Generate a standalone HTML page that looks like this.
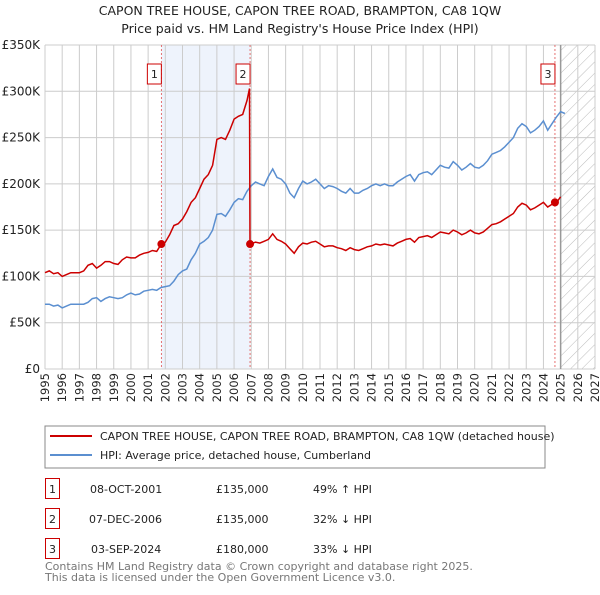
<!DOCTYPE html>
<html><head><meta charset="utf-8"><style>
body{margin:0;background:#fff;font-family:"Liberation Sans","DejaVu Sans",sans-serif;}
svg text{font-family:"DejaVu Sans","Liberation Sans",sans-serif;}
</style></head><body>
<svg id="c" width="600" height="590" xmlns="http://www.w3.org/2000/svg">
<defs><pattern id="hatch" width="8" height="8" patternUnits="userSpaceOnUse" patternTransform="rotate(45)"><line x1="0" y1="0" x2="0" y2="8" stroke="#bbb" stroke-width="1"/></pattern></defs>
<text x="300" y="15" text-anchor="middle" font-size="12.5" fill="#222">CAPON TREE HOUSE, CAPON TREE ROAD, BRAMPTON, CA8 1QW</text>
<text x="300" y="33" text-anchor="middle" font-size="12.5" fill="#222">Price paid vs. HM Land Registry's House Price Index (HPI)</text>
<g id="plot"></g>
<rect x="45" y="426" width="500" height="42" fill="#fff" stroke="#888"/>
<line x1="50" y1="436" x2="92" y2="436" stroke="#cc0000" stroke-width="2"/>
<text x="100" y="440" font-size="11" fill="#222">CAPON TREE HOUSE, CAPON TREE ROAD, BRAMPTON, CA8 1QW (detached house)</text>
<line x1="50" y1="455" x2="92" y2="455" stroke="#5b8fd0" stroke-width="2"/>
<text x="100" y="459" font-size="11" fill="#222">HPI: Average price, detached house, Cumberland</text>
<g font-size="11" fill="#222">
<rect x="45.5" y="478.5" width="14" height="20" fill="#fff" stroke="#cc0000"/><text x="52.5" y="493" text-anchor="middle">1</text>
<text x="90" y="493">08-OCT-2001</text><text x="216" y="493">£135,000</text><text x="313" y="493">49% ↑ HPI</text>
<rect x="45.5" y="508.5" width="14" height="20" fill="#fff" stroke="#cc0000"/><text x="52.5" y="523" text-anchor="middle">2</text>
<text x="89" y="523">07-DEC-2006</text><text x="216" y="523">£135,000</text><text x="313" y="523">32% ↓ HPI</text>
<rect x="45.5" y="538.5" width="14" height="20" fill="#fff" stroke="#cc0000"/><text x="52.5" y="553" text-anchor="middle">3</text>
<text x="91" y="553">03-SEP-2024</text><text x="216" y="553">£180,000</text><text x="313" y="553">33% ↓ HPI</text>
</g>
<text x="45" y="570" font-size="11" fill="#777">Contains HM Land Registry data © Crown copyright and database right 2025.</text>
<text x="45" y="581" font-size="11" fill="#777">This data is licensed under the Open Government Licence v3.0.</text>
</svg>
<script>
const yTicks=[0,50,100,150,200,250,300,350];
const yTickLabels=["£0","£50K","£100K","£150K","£200K","£250K","£300K","£350K"];
const xYears=[1995,1996,1997,1998,1999,2000,2001,2002,2003,2004,2005,2006,2007,2008,2009,2010,2011,2012,2013,2014,2015,2016,2017,2018,2019,2020,2021,2022,2023,2024,2025,2026,2027];
const hpiStart=1995;
const hpiValues=[70,70,68,69,66,68,70,70,70,70,72,76,77,73,76,78,77,76,77,80,82,80,81,84,85,86,85,88,89,90,95,102,106,108,118,125,135,138,142,150,167,168,165,172,180,184,183,192,198,202,200,198,208,216,207,205,200,190,185,195,203,200,202,205,200,195,198,197,195,192,190,195,190,190,193,195,198,200,198,200,198,198,202,205,208,210,203,210,212,213,210,215,220,218,217,224,220,215,218,222,218,217,220,225,232,234,236,240,245,250,260,265,262,255,258,262,268,258,265,272,278,276];
const redYears=[1995,1995.25,1995.5,1995.75,1996,1996.25,1996.5,1996.75,1997,1997.25,1997.5,1997.75,1998,1998.25,1998.5,1998.75,1999,1999.25,1999.5,1999.75,2000,2000.25,2000.5,2000.75,2001,2001.25,2001.5,2001.77,2002,2002.25,2002.5,2002.75,2003,2003.25,2003.5,2003.75,2004,2004.25,2004.5,2004.75,2005,2005.25,2005.5,2005.75,2006,2006.25,2006.5,2006.75,2006.9,2006.93,2007.25,2007.5,2007.75,2008,2008.25,2008.5,2008.75,2009,2009.25,2009.5,2009.75,2010,2010.25,2010.5,2010.75,2011,2011.25,2011.5,2011.75,2012,2012.25,2012.5,2012.75,2013,2013.25,2013.5,2013.75,2014,2014.25,2014.5,2014.75,2015,2015.25,2015.5,2015.75,2016,2016.25,2016.5,2016.75,2017,2017.25,2017.5,2017.75,2018,2018.25,2018.5,2018.75,2019,2019.25,2019.5,2019.75,2020,2020.25,2020.5,2020.75,2021,2021.25,2021.5,2021.75,2022,2022.25,2022.5,2022.75,2023,2023.25,2023.5,2023.75,2024,2024.25,2024.67,2024.85,2025.0];
const redValues=[104,106,103,104,100,102,104,104,104,106,112,114,109,112,116,116,114,113,118,121,120,120,123,125,126,128,127,135,137,145,155,157,162,170,180,185,195,205,210,220,248,250,248,258,270,273,275,290,303,135,137,136,138,140,146,140,138,135,130,125,132,136,135,137,138,135,132,133,133,131,130,128,131,129,128,130,132,133,135,134,135,134,133,136,138,140,141,137,142,143,144,142,145,148,147,146,150,148,145,147,150,147,146,148,152,156,157,159,162,165,168,175,179,177,172,174,177,180,175,180,182,186];
const saleYears=[2001.77,2006.93,2024.67];
const saleValues=[135,135,180];
const saleLabels=["1","2","3"];

const L=45,R=595,T=45,B=369,X0=1995,X1=2027,YMAX=350;
const xs=y=>L+(y-X0)/(X1-X0)*(R-L);
const ys=v=>B-v/YMAX*(B-T);
const NS="http://www.w3.org/2000/svg";
const g=document.getElementById('plot');
function mk(tag,attrs){const e=document.createElementNS(NS,tag);for(const k in attrs)e.setAttribute(k,attrs[k]);g.appendChild(e);return e;}

let e=mk('rect',{x:xs(saleYears[0]),y:T,width:xs(saleYears[1])-xs(saleYears[0]),height:B-T,fill:'#eef3fc'});


e=mk('rect',{x:xs(2025),y:T,width:R-xs(2025),height:B-T,fill:'url(#hatch)'});


xYears.forEach(yr=>{
  let l=mk('line',{x1:xs(yr),x2:xs(yr),y1:T,y2:B,stroke:'#cccccc','stroke-width':1});
  
  
  let t=mk('text',{x:0,y:0,'font-size':11.5,fill:'#222','text-anchor':'end',transform:`translate(${xs(yr)+4},${B+4}) rotate(-90)`});
  t.textContent=yr;
  
  
});
yTicks.forEach((v,i)=>{
  let l=mk('line',{x1:L,x2:R,y1:ys(v),y2:ys(v),stroke:'#cccccc','stroke-width':1});
  
  
  let t=mk('text',{x:L-5,y:ys(v)+4,'font-size':12,fill:'#222','text-anchor':'end'});
  t.textContent=yTickLabels[i];
  
  
});
e=mk('line',{x1:xs(2025),x2:xs(2025),y1:T,y2:B,stroke:'#999','stroke-width':1.5});


saleYears.forEach((yr,i)=>{
  let l=mk('line',{x1:xs(yr),x2:xs(yr),y1:T,y2:B,stroke:'#e05050','stroke-width':0.8,'stroke-dasharray':'2,2'});
  
  
});
let hp=hpiValues.map((v,i)=>`${xs(hpiStart+i*0.25).toFixed(1)},${ys(v).toFixed(1)}`).join(' ');
e=mk('polyline',{points:hp,fill:'none',stroke:'#5b8fd0','stroke-width':1.5});


let rp=redValues.map((v,i)=>`${xs(redYears[i]).toFixed(1)},${ys(v).toFixed(1)}`).join(' ');
e=mk('polyline',{points:rp,fill:'none',stroke:'#cc0000','stroke-width':1.5});


saleYears.forEach((yr,i)=>{
  let c=mk('circle',{cx:xs(yr),cy:ys(saleValues[i]),r:4,fill:'#cc0000'});
  
  
  let bx=xs(yr)-14;
  let r=mk('rect',{x:bx,y:64,width:14,height:20,fill:'#fff',stroke:'#cc0000'});
  
  
  let t=mk('text',{x:bx+7,y:78,'font-size':11,fill:'#222','text-anchor':'middle'});
  t.textContent=saleLabels[i];
  
  
});
</script>
</body></html>
